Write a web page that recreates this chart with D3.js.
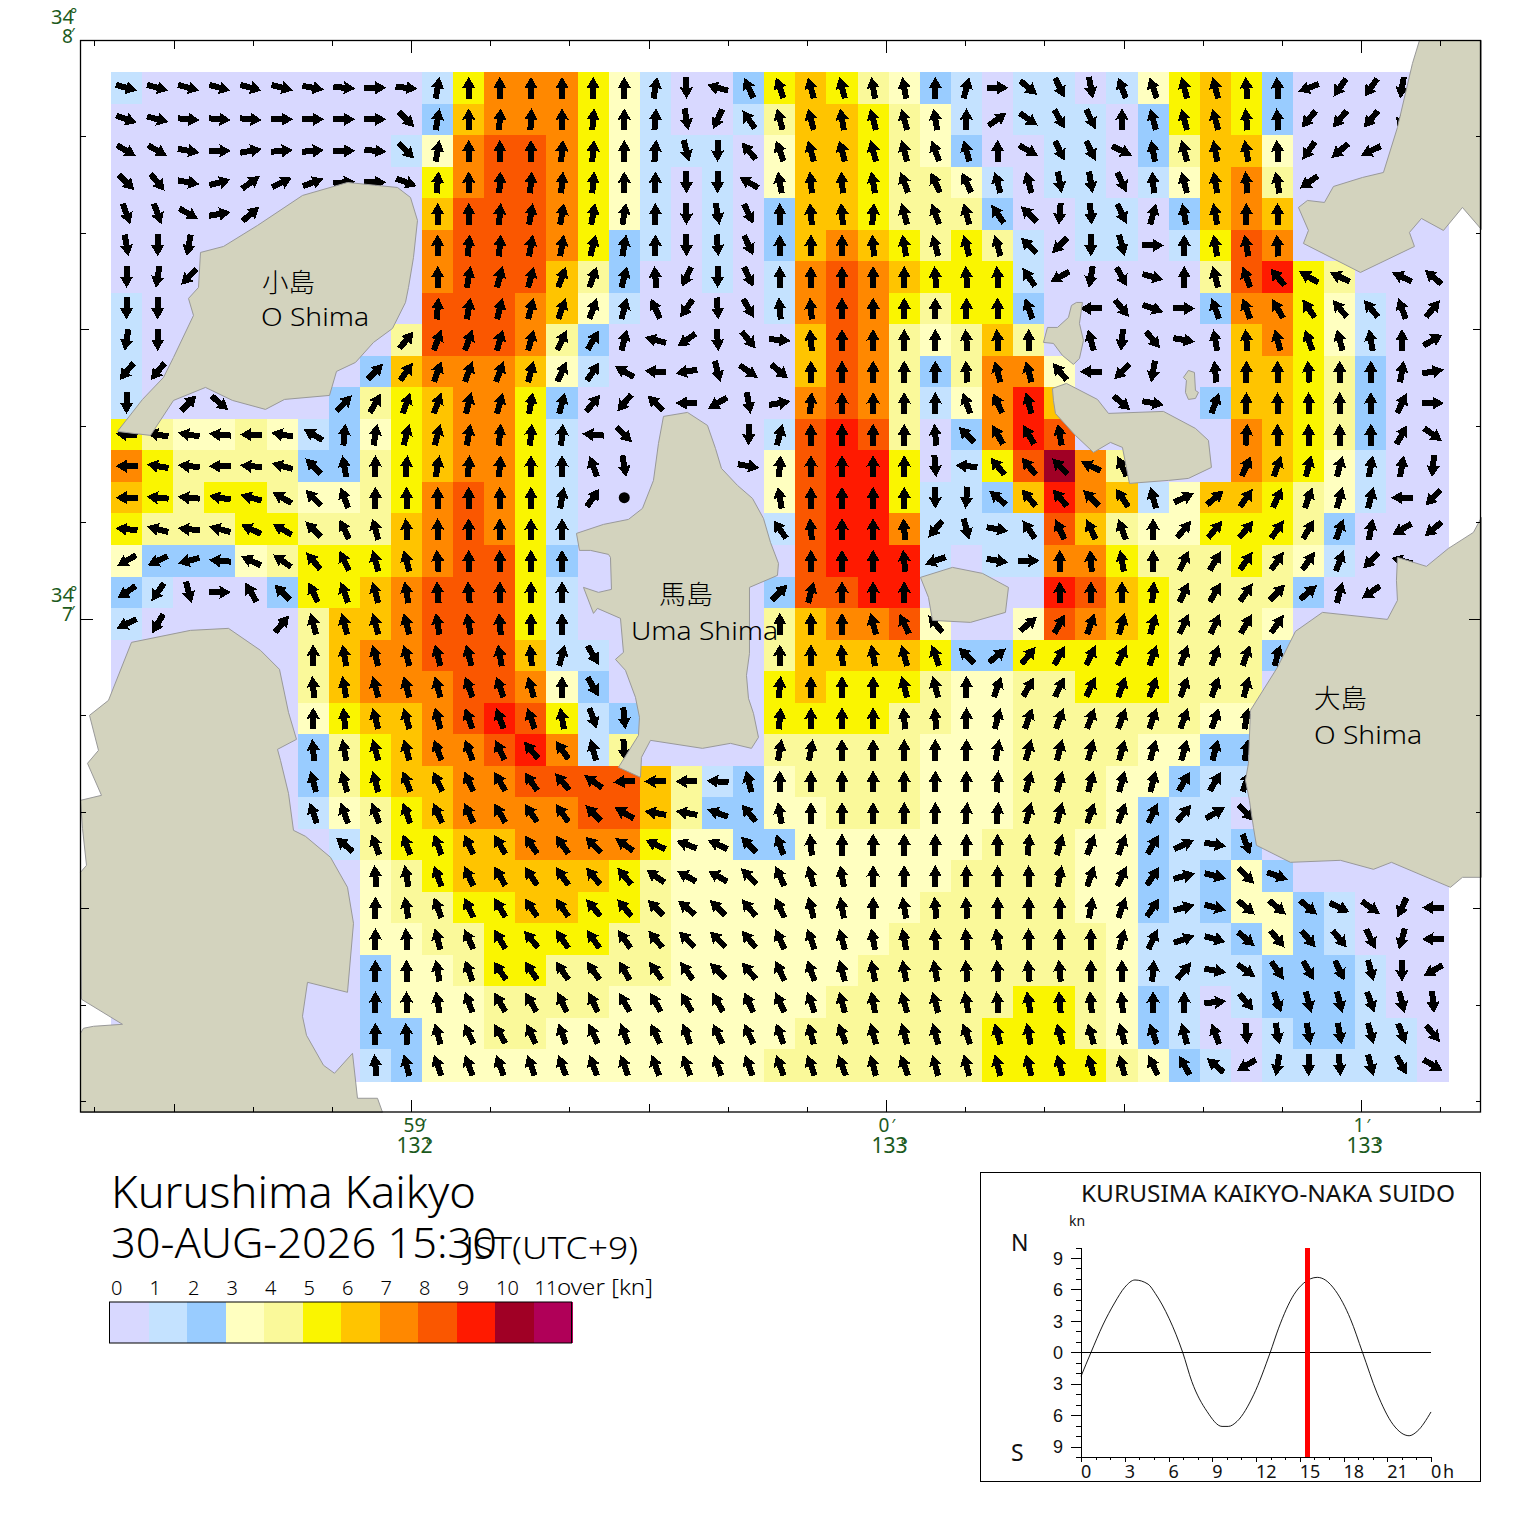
<!DOCTYPE html>
<html>
<head>
<meta charset="utf-8">
<title>Kurushima Kaikyo</title>
<script src="https://cdn.jsdelivr.net/npm/d3@7"></script>
<style>
  body { margin: 0; background: #fff; }
  text { font-family: "Noto Sans", "Noto Sans CJK JP", sans-serif; font-weight: 400; fill: #111; }
  text.big { font-weight: 300; fill: #000; }
  .geo { fill: #1c5a1c; font-weight: 400; }
  .land { fill: #d3d3be; stroke: #999; stroke-width: 1; }
</style>
</head>
<body>
<svg id="chart" width="1520" height="1533"></svg>
<script>
var _ = null;

// legend classes, knots
var speedColors = ["#d8d8ff", "#c4e2ff", "#99ccff", "#ffffc0", "#faf99a", "#faf500",
                   "#ffc400", "#ff8800", "#fa5700", "#ff1a00", "#a00025", "#b00058"];
var speedLabels = ["0", "1", "2", "3", "4", "5", "6", "7", "8", "9", "10", "11"];

// speed class per grid cell, one string per row (north to south), a = class 10
var speedRows = [
  "1000000000" + "1577753100" + "2565432101" + "1013565200" + "000",
  "0000000000" + "2677753100" + "1466543101" + "1102565200" + "000",
  "0000000001" + "3788753111" + "0366543200" + "1102466300" + "000",
  "0000000000" + "5788753101" + "0366544310" + "1101367400" + "000",
  "0000000000" + "6888753101" + "0266544420" + "0110267600" + "000",
  "0000000000" + "7888752101" + "0267654541" + "0110158700" + "000",
  "0000000000" + "7888642001" + "0178765551" + "0000048954" + "000",
  "1000000000" + "8887631000" + "0178754552" + "0000027753" + "100",
  "1000000004" + "8887420000" + "0068743464" + "0000006753" + "100",
  "1000000026" + "7776310000" + "0068742477" + "3000006654" + "200",
  "1000000245" + "6775200000" + "0078741379" + "6000026654" + "200",
  "5433431235" + "6775100000" + "0189840279" + "8000007654" + "200",
  "7544442245" + "6775100000" + "0389950158" + "a740007653" + "100",
  "6545543345" + "7875100000" + "0389951126" + "9761366543" + "100",
  "5444554446" + "7875100000" + "0189971111" + "8643355542" + "000",
  "3222345556" + "7885200000" + "0089991011" + "7754445431" + "000",
  "2100025567" + "8885100000" + "0288990000" + "9865444420" + "000",
  "1000004667" + "8885100000" + "0467783003" + "8765444300" + "000",
  "0000004677" + "8886110000" + "0466665225" + "5555444200" + "000",
  "0000004677" + "7887320000" + "0565554334" + "4555444000" + "000",
  "0000003566" + "7898512000" + "0555544334" + "4444433000" + "000",
  "0000002456" + "7789714000" + "0444443334" + "4443322000" + "000",
  "0000002456" + "6778888641" + "2344443334" + "4433211000" + "000",
  "0000001345" + "6777788642" + "2334443334" + "4432110000" + "000",
  "0000000145" + "5667777533" + "2233333344" + "4332112000" + "000",
  "0000000034" + "5666665433" + "3333333444" + "4332123200" + "000",
  "0000000034" + "4556655433" + "3333334444" + "4332123321" + "000",
  "0000000033" + "4455554433" + "3333344444" + "4431112321" + "000",
  "0000000023" + "3455444433" + "3333444444" + "4431111222" + "100",
  "0000000023" + "3344443333" + "3334444445" + "5432101222" + "100",
  "0000000022" + "3344333333" + "3344444455" + "5432100122" + "110",
  "0000000012" + "3333333333" + "3444444455" + "5543210111" + "110"
];

// flow direction per grid cell, degrees clockwise from north; _ no arrow, -1 slack (dot)
var flowRows = [
  [105,105,105,105,105,105,100,95,90,95, 10,0,0,0,0,0,0,10,180,285, 335,340,345,345,350,350,0,15,90,130, 155,170,340,340,345,345,355,355,250,215, 215,190,_],
  [110,105,95,95,95,90,90,90,90,135, 10,0,5,3,0,5,0,5,170,205, 325,345,345,350,345,345,350,0,55,125, 150,155,0,345,345,345,355,355,220,220, 220,200,_],
  [120,120,100,90,80,85,85,90,95,135, 10,0,0,0,5,5,0,5,165,180, 320,340,345,345,345,345,340,345,0,120, 155,155,115,350,345,350,350,355,215,230, 245,_,_],
  [135,140,100,75,55,65,70,85,90,110, 5,0,3,5,5,5,0,0,180,180, 300,350,355,355,350,340,335,335,345,345, 170,170,155,355,345,350,355,350,235,_, _,_,_],
  [160,160,120,80,50,_,_,_,_,_, 0,0,5,10,10,10,10,0,180,170, 155,0,355,355,5,345,340,345,325,315, 185,175,155,15,350,350,0,0,_,_, _,_,_],
  [170,180,190,_,_,_,_,_,_,_, 0,5,5,10,10,15,10,0,180,175, 155,0,0,0,355,350,345,345,345,315, 225,180,165,90,0,350,350,355,_,_, _,_,_],
  [180,190,225,_,_,_,_,_,_,_, 0,10,15,15,20,20,15,355,205,180, 155,0,0,0,0,0,355,355,355,325, 240,190,150,105,0,345,340,320,300,295, _,295,310],
  [180,180,_,_,_,_,_,_,_,_, 5,10,15,15,20,20,15,335,215,175, 150,355,355,0,0,0,0,0,0,340, _,270,140,110,90,340,340,330,325,320, 320,340,40],
  [190,180,_,_,_,_,_,_,_,40, 20,20,15,15,25,30,15,285,235,175, 140,95,355,0,0,0,0,355,355,0, _,345,185,140,100,350,355,345,340,345, 350,0,60],
  [220,220,_,_,_,_,_,_,45,35, 20,20,20,15,25,35,300,275,260,165, 125,130,0,0,0,0,0,355,345,345, 320,270,225,190,_,355,0,0,355,0, 0,10,80],
  [180,_,45,130,_,_,_,45,30,20, 20,15,15,10,15,40,220,315,270,240, 170,80,5,0,0,0,0,340,335,345, _,_,130,100,_,20,0,0,0,0, 0,25,90],
  [275,280,280,275,270,280,300,5,10,15, 15,10,5,5,5,275,135,_,_,_, 180,15,0,0,0,0,355,315,330,330, 350,_,_,_,_,_,5,0,0,0, 0,30,125],
  [270,280,275,270,275,285,315,350,0,5, 10,5,5,0,0,340,170,_,_,_, 100,5,0,0,0,0,175,275,320,320, 315,295,335,_,_,_,25,20,15,15, 10,10,185],
  [270,275,275,280,285,300,315,340,0,0, 0,0,0,0,10,35,-1,_,_,_, _,350,0,0,0,0,180,185,310,320, 320,315,325,345,65,50,35,25,20,15, 15,270,225],
  [275,285,275,285,295,300,315,335,345,355, 0,0,0,0,0,_,_,_,_,_, _,325,355,0,0,355,220,165,100,325, 335,335,340,0,40,40,40,35,30,20, 10,240,230],
  [240,245,255,275,295,305,320,335,345,345, 355,0,0,0,0,_,_,_,_,_, _,_,0,0,0,355,250,_,100,90, 0,355,350,0,25,30,35,35,35,20, 225,285,_],
  [235,215,165,90,330,315,335,340,345,350, 355,355,0,0,0,_,_,_,_,_, _,45,15,0,0,0,_,_,_,_, 0,0,0,5,25,30,35,45,50,15, 235,_,_],
  [245,210,_,_,_,40,345,345,345,345, 350,350,355,0,0,_,_,_,_,_, _,0,0,0,345,335,320,_,_,50, 30,20,15,15,25,25,30,35,_,_, _,_,_],
  [_,_,_,_,_,_,0,350,345,345, 345,345,350,355,15,150,_,_,_,_, _,0,0,355,350,345,340,315,50,40, 30,25,25,20,20,20,20,15,_,_, _,_,_],
  [_,_,_,_,_,_,355,350,345,345, 345,340,340,345,0,150,_,_,_,_, _,5,0,0,0,345,345,0,20,30, 25,25,20,20,20,20,15,_,_,_, _,_,_],
  [_,_,_,_,_,_,0,355,345,345, 345,340,340,340,350,160,175,_,_,_, _,5,0,0,0,355,355,0,15,20, 20,20,20,20,20,20,10,_,_,_, _,_,_],
  [_,_,_,_,_,_,355,350,345,345, 340,340,335,320,325,345,175,_,_,_, _,10,10,0,0,0,0,0,10,15, 15,15,15,15,15,15,10,_,_,_, _,_,_],
  [_,_,_,_,_,_,345,345,345,340, 335,335,330,325,320,305,265,270,270,275, 345,0,0,0,0,0,0,0,5,15, 15,15,15,15,30,30,20,_,_,_, _,_,_],
  [_,_,_,_,_,_,340,340,340,340, 335,335,330,325,325,315,300,280,280,290, 320,350,0,0,0,0,0,5,5,15, 15,20,20,25,40,60,135,_,_,_, _,_,_],
  [_,_,_,_,_,_,_,310,340,340, 340,335,330,325,325,315,305,295,290,295, 315,340,355,0,0,0,0,0,0,5, 15,20,20,30,65,100,160,_,_,_, _,_,_],
  [_,_,_,_,_,_,_,_,355,350, 340,335,330,325,325,320,320,305,300,300, 315,335,345,350,0,0,0,0,0,0, 10,20,25,35,75,105,135,110,_,_, _,_,_],
  [_,_,_,_,_,_,_,_,0,350, 340,335,330,325,325,320,320,315,310,315, 320,335,345,350,0,350,355,355,0,0, 0,10,20,35,75,105,130,130,130,115, 125,205,270],
  [_,_,_,_,_,_,_,_,0,355, 345,335,330,320,325,325,325,320,315,315, 320,335,340,345,350,350,355,355,350,0, 0,0,15,25,70,105,130,140,140,140, 155,195,270],
  [_,_,_,_,_,_,_,_,0,0, 350,340,325,325,325,325,330,325,325,315, 320,335,340,345,350,350,350,355,355,355, 355,0,0,5,40,100,125,145,150,155, 165,180,240],
  [_,_,_,_,_,_,_,_,0,0, 350,340,330,330,335,335,330,330,330,330, 335,335,340,345,350,345,345,350,355,350, 355,355,355,0,0,85,140,160,165,165, 160,165,175],
  [_,_,_,_,_,_,_,_,0,355, 345,335,330,335,340,335,340,335,340,335, 335,340,345,340,345,345,345,340,345,350, 345,345,345,340,345,340,175,170,170,170, 165,160,140],
  [_,_,_,_,_,_,_,_,355,345, 340,340,340,340,340,340,340,340,340,340, 340,340,340,340,345,340,345,345,345,345, 345,345,345,335,330,310,240,190,180,175, 165,150,120]
];

// coastlines digitised in sheet units from the map's NW corner: 475 per minute east, 579 per minute south
var coastOShimaNW = [[267,142],[317,147],[330,157],[337,180],[333,217],[328,247],[325,262],[312,288],[293,302],[275,322],[256,331],[249,355],[204,359],[185,369],[152,360],[125,347],[93,360],[70,395],[37,391],[62,359],[83,337],[93,317],[113,275],[108,258],[118,247],[120,212],[143,206],[177,185],[222,155]];
var coastUmaShima = [[583,376],[607,372],[627,385],[635,408],[641,428],[657,445],[672,458],[683,478],[690,502],[698,523],[697,535],[669,547],[669,593],[669,613],[666,635],[668,658],[673,673],[678,697],[671,708],[650,703],[622,708],[570,700],[561,717],[560,737],[538,727],[558,695],[559,677],[555,657],[545,630],[535,619],[543,612],[540,578],[517,568],[513,573],[503,547],[518,552],[531,549],[530,517],[528,514],[510,510],[499,510],[496,493],[523,484],[548,479],[562,468],[573,440],[578,403]];
var coastEastIslet = [[840,537],[872,527],[902,533],[928,547],[925,572],[890,582],[852,580],[848,557]];
var coastNorthIslet = [[996,262],[1002,262],[999,283],[1003,300],[999,318],[993,324],[982,315],[973,303],[963,302],[967,287],[977,287],[988,277],[991,265]];
var coastTinyIslet = [[1108,330],[1114,332],[1115,350],[1118,352],[1115,358],[1108,359],[1105,352],[1106,340],[1103,337]];
var coastCentral = [[972,348],[986,343],[1017,359],[1028,373],[1083,371],[1115,388],[1128,400],[1131,427],[1108,438],[1088,440],[1049,443],[1042,407],[1030,402],[1013,412],[995,395],[975,373],[973,360]];
var coastNorthEast = [[1339,0],[1332,23],[1317,87],[1303,132],[1282,137],[1253,146],[1244,162],[1227,160],[1218,167],[1228,190],[1223,203],[1280,232],[1334,206],[1329,192],[1341,178],[1363,190],[1382,167],[1401,189],[1401,0]];
var coastOShimaSE = [[1401,477],[1393,492],[1368,508],[1346,526],[1317,517],[1316,540],[1317,560],[1307,579],[1242,572],[1215,591],[1197,627],[1170,670],[1168,723],[1165,740],[1169,760],[1173,787],[1176,805],[1210,822],[1260,820],[1293,829],[1311,822],[1370,847],[1382,837],[1401,837]];
var coastWest = [[51,602],[110,590],[148,588],[180,610],[199,629],[208,672],[216,699],[197,709],[200,720],[208,753],[213,790],[225,796],[250,817],[267,847],[273,883],[267,952],[227,942],[222,976],[226,995],[243,1025],[254,1033],[272,1013],[277,1058],[297,1058],[302,1072],[0,1072],[0,993],[3,988],[13,986],[42,984],[1,959],[0,832],[6,825],[2,788],[0,760],[21,755],[7,723],[18,710],[9,675],[28,660]];
var coasts = [coastOShimaNW, coastUmaShima, coastEastIslet, coastNorthIslet, coastTinyIslet, coastCentral, coastNorthEast, coastOShimaSE, coastWest];

// tidal stream at the Naka Suido, hours and knots (north positive)
var tideHours = [0, 0.69, 1.5, 2.3, 3, 3.7, 4.6, 5.1, 6.05, 6.97, 7.6, 8.64, 9.67, 10.1, 10.7, 11.84, 12.98, 13.55, 14.6, 15.27, 16.2, 16.75, 17.44, 18.47, 19.3, 20.3, 21.4, 22.5, 23.05, 24];
var tideKnots = [-2.3, 0, 2.6, 4.7, 6.2, 6.9, 6.5, 5.6, 3.2, 0, -2.8, -5.65, -7.08, -7.08, -6.6, -4.06, 0, 2.3, 5.5, 6.6, 7.15, 6.9, 5.9, 3.2, 0, -3.9, -6.9, -7.97, -7.55, -5.7];
var tideNow = 15.5;

var tideXLabels = [0, 3, 6, 9, 12, 15, 18, 21, 24];
var lonLabels = [{min: -1, m: "59", d: "132"}, {min: 0, m: "0", d: "133"}, {min: 1, m: "1", d: "133"}];
var latLabels = [{min: 1, m: "8"}, {min: 0, m: "7"}];

var frame = {left: 80.5, right: 1480.5, top: 40.5, bottom: 1112};
var lonScale = d3.scaleLinear().domain([-1.697, 1.2505]).range([frame.left, frame.right]);
var latScale = d3.scaleLinear().domain([1, -0.851]).range([frame.top, frame.bottom]);
var colScale = d3.scaleLinear().domain([0, 43]).range([111, 1448.6]);
var rowScale = d3.scaleLinear().domain([0, 32]).range([72, 1081]);

var svg = d3.select("#chart");

function drawCells(){
  var cells = [];
  speedRows.forEach(function(row, r){
    row.split("").forEach(function(ch, c){
      cells.push({r: r, c: c, cls: parseInt(ch, 16)});
    });
  });
  svg.append("g").attr("shape-rendering", "crispEdges")
    .selectAll("rect").data(cells).enter().append("rect")
    .attr("x", function(d){ return colScale(d.c); })
    .attr("y", function(d){ return rowScale(d.r); })
    .attr("width", function(d){ return colScale(d.c + 1) - colScale(d.c) + 0.5; })
    .attr("height", function(d){ return rowScale(d.r + 1) - rowScale(d.r) + 0.5; })
    .attr("fill", function(d){ return speedColors[d.cls]; });
}

function drawArrows(){
  var arrows = [];
  flowRows.forEach(function(row, r){
    row.forEach(function(dir, c){
      if(dir !== null){ arrows.push({r: r, c: c, dir: dir}); }
    });
  });
  var arrowPath = "M0,-11L6.7,0.5L3,0L3,11L-3,11L-3,0L-6.7,0.5Z";
  var g = svg.append("g").attr("shape-rendering", "crispEdges");
  arrows.forEach(function(d){
    var cx = colScale(d.c + 0.5), cy = rowScale(d.r + 0.5);
    if(d.dir < 0){
      g.append("circle").attr("cx", cx).attr("cy", cy).attr("r", 5.5)
        .attr("fill", "#000").attr("shape-rendering", "auto");
    } else {
      g.append("path").attr("d", arrowPath).attr("fill", "#000")
        .attr("transform", "translate(" + cx + "," + cy + ") rotate(" + d.dir + ")");
    }
  });
}

function drawLand(){
  var line = d3.line()
    .x(function(p){ return lonScale(-1.697 + p[0] / 475); })
    .y(function(p){ return latScale(1 - p[1] / 579); })
    .curve(d3.curveLinearClosed);
  svg.append("g").selectAll("path").data(coasts).enter().append("path")
    .attr("class", "land").attr("d", line);
}

function drawFrame(){
  svg.append("rect").attr("x", frame.left).attr("y", frame.top)
    .attr("width", frame.right - frame.left).attr("height", frame.bottom - frame.top)
    .attr("fill", "none").attr("stroke", "#000").attr("stroke-width", 1.3);

  // every 10 seconds of arc, longer at the half and whole minute
  function tickLen(sec){
    if(sec % 60 === 0){ return 12; }
    if(sec % 30 === 0){ return 8; }
    return 5;
  }
  var ticks = svg.append("g").attr("stroke", "#000").attr("stroke-width", 1).attr("shape-rendering", "crispEdges");
  d3.range(-100, 71, 10).forEach(function(sec){
    var x = lonScale(sec / 60), len = tickLen(sec);
    ticks.append("line").attr("x1", x).attr("x2", x).attr("y1", frame.top).attr("y2", frame.top + len);
    ticks.append("line").attr("x1", x).attr("x2", x).attr("y1", frame.bottom).attr("y2", frame.bottom - len);
  });
  d3.range(-50, 60, 10).forEach(function(sec){
    var y = latScale(sec / 60), len = tickLen(sec);
    ticks.append("line").attr("y1", y).attr("y2", y).attr("x1", frame.left).attr("x2", frame.left + len);
    ticks.append("line").attr("y1", y).attr("y2", y).attr("x1", frame.right).attr("x2", frame.right - len);
  });

  var labels = svg.append("g");
  function geo(x, y, size, str){
    labels.append("text").attr("class", "geo").attr("x", x).attr("y", y)
      .attr("font-size", size).text(str);
  }
  latLabels.forEach(function(l){
    var y = latScale(l.min);
    geo(51, y - 17, 20, "34");
    geo(70, y - 21, 17, "°");
    geo(62, y + 2, 19, l.m);
    geo(71, y - 1, 16, "′");
  });
  lonLabels.forEach(function(l){
    var x = lonScale(l.min);
    geo(x - 8, 1132, 19, l.m);
    geo(x + (l.m.length > 1 ? 11 : 5), 1131, 16, "′");
    geo(x - 15, 1153, 21, l.d);
    geo(x + 14, 1151, 17, "°");
  });
}

function placeNames(){
  var names = [
    ["小島", 262, 292, 53], ["O Shima", 261, 326, 108],
    ["馬島", 659, 604, 54], ["Uma Shima", 631, 640, 147],
    ["大島", 1314, 708, 53], ["O Shima", 1314, 744, 108]
  ];
  svg.append("g").selectAll("text").data(names).enter().append("text")
    .attr("x", function(d){ return d[1]; })
    .attr("y", function(d){ return d[2]; })
    .attr("font-size", 26)
    .attr("class", "big")
    .attr("textLength", function(d){ return d[3]; })
    .attr("lengthAdjust", "spacingAndGlyphs")
    .text(function(d){ return d[0]; });
}

function fitted(parent, x, y, size, width, str){
  return parent.append("text").attr("x", x).attr("y", y).attr("font-size", size)
    .attr("textLength", width).attr("lengthAdjust", "spacingAndGlyphs").text(str);
}

function drawTitle(){
  fitted(svg, 111, 1208, 44, 365, "Kurushima Kaikyo").attr("class", "big");
  fitted(svg, 111, 1258, 42, 386, "30-AUG-2026 15:30").attr("class", "big");
  fitted(svg, 465, 1259, 32, 173, "JST(UTC+9)").attr("class", "big");
}

function drawLegend(){
  var legendX = d3.scaleLinear().domain([0, 12]).range([110, 572]);
  var g = svg.append("g");
  g.selectAll("rect").data(speedColors).enter().append("rect")
    .attr("x", function(d, i){ return legendX(i); })
    .attr("y", 1302)
    .attr("width", function(d, i){ return legendX(i + 1) - legendX(i) + 0.5; })
    .attr("height", 41)
    .attr("fill", function(d){ return d; })
    .attr("shape-rendering", "crispEdges");
  g.append("rect").attr("x", 109.5).attr("y", 1302).attr("width", 462).attr("height", 41)
    .attr("fill", "none").attr("stroke", "#000").attr("stroke-width", 1);
  g.selectAll("text").data(speedLabels).enter().append("text")
    .attr("x", function(d, i){ return legendX(i) + 1; })
    .attr("y", 1295)
    .attr("font-size", 20)
    .attr("class", "big")
    .text(function(d){ return d; });
  fitted(g, 557, 1295, 22, 96, "over [kn]").attr("class", "big");
}

function drawTide(){
  var box = svg.append("g");
  box.append("rect").attr("x", 980.5).attr("y", 1172.5).attr("width", 500).attr("height", 309)
    .attr("fill", "none").attr("stroke", "#000").attr("stroke-width", 1);
  fitted(box, 1081, 1202, 23.5, 374, "KURUSIMA KAIKYO-NAKA SUIDO");
  box.append("text").attr("x", 1069).attr("y", 1226).attr("font-size", 14).text("kn");
  box.append("text").attr("x", 1011).attr("y", 1251).attr("font-size", 23).text("N");
  box.append("text").attr("x", 1011).attr("y", 1461).attr("font-size", 23).text("S");

  var x = d3.scaleLinear().domain([0, 24]).range([1081, 1431]);
  var y = d3.scaleLinear().domain([-10, 10]).range([1457, 1247.5]);

  var yAxis = d3.axisLeft(y).tickValues(d3.range(-10, 11))
    .tickSize(5).tickPadding(13)
    .tickFormat(function(d){ return d % 3 === 0 && d !== 0 ? Math.abs(d) : (d === 0 ? "0" : ""); });
  var gy = box.append("g").attr("transform", "translate(1081,0)").call(yAxis);
  gy.selectAll(".tick line").attr("x2", function(d){ return d % 3 === 0 ? -10 : -5; });
  gy.selectAll("text").attr("font-size", 18).attr("dy", "0.35em").style("font-family", "inherit");

  var xAxis = d3.axisBottom(x).tickValues(d3.range(0, 25)).tickSize(3).tickFormat("");
  var gx = box.append("g").attr("transform", "translate(0,1457)").call(xAxis);
  gx.selectAll(".tick line").attr("y2", function(d){ return d % 3 === 0 ? 5 : 3; });
  gx.selectAll("path, line").attr("shape-rendering", "crispEdges");
  gy.selectAll("path, line").attr("shape-rendering", "crispEdges");

  box.selectAll("text.xl").data(tideXLabels).enter().append("text")
    .attr("class", "xl")
    .attr("x", function(d){ return x(d); })
    .attr("y", 1478)
    .attr("font-size", 18)
    .text(function(d){ return d % 24; });
  box.append("text").attr("x", 1443).attr("y", 1478).attr("font-size", 18).text("h");

  box.append("line").attr("x1", x(0)).attr("x2", x(24)).attr("y1", y(0)).attr("y2", y(0))
    .attr("stroke", "#000").attr("shape-rendering", "crispEdges");

  var tide = d3.line()
    .x(function(d, i){ return x(tideHours[i]); })
    .y(function(d){ return y(d); })
    .curve(d3.curveMonotoneX);
  box.append("path").attr("d", tide(tideKnots)).attr("fill", "none").attr("stroke", "#000").attr("stroke-width", 0.9);

  box.append("rect").attr("x", x(tideNow) - 2.5).attr("y", y(10)).attr("width", 5).attr("height", y(-10) - y(10))
    .attr("fill", "#ff0000").attr("shape-rendering", "crispEdges");
}

drawCells();
drawArrows();
drawLand();
drawFrame();
placeNames();
drawTitle();
drawLegend();
drawTide();
</script>
</body>
</html>
